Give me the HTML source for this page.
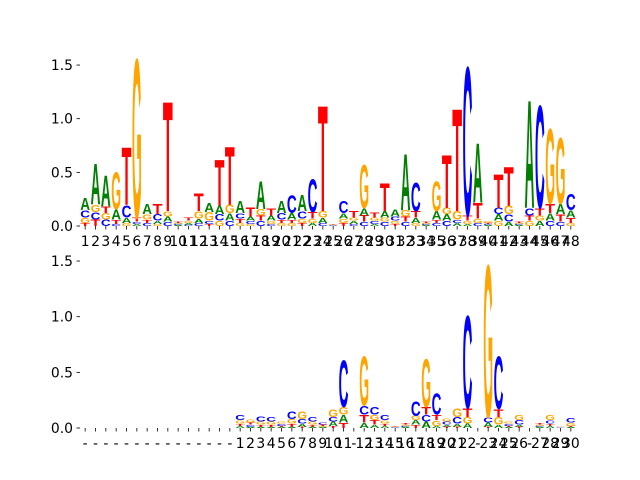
<!DOCTYPE html>
<html><head><meta charset="utf-8"><style>
html,body{margin:0;padding:0;background:#fff;}
svg{display:block;}
text{font-family:"DejaVu Sans","Liberation Sans",sans-serif;}
text.letter{font-family:"Liberation Sans","DejaVu Sans",sans-serif;}
</style></head>
<body>
<svg id="chart" width="640" height="480" viewBox="0 0 640 480" xmlns="http://www.w3.org/2000/svg">
<g id="top"></g>
<g id="bottom"></g>
</svg>
<script>
const topLabels = Array.from({length:48},(_, i)=>String(i+1));
const topA = [.12,.4,.3,.1,.05,.02,.1,.03,.05,.01,.02,.04,.09,.08,.07,.12,.04,.27,.05,.12,.06,.16,.03,.05,.005,.05,.03,.07,.02,.06,.07,.55,.05,.01,.08,.06,.03,.02,.58,.01,.06,.04,.01,1.05,.05,.07,.1,.07];
const topC = [.07,.07,.06,.02,.12,.02,.03,.06,.04,.01,.01,.03,.03,.06,.05,.05,.03,.05,.02,.06,.17,.07,.32,.03,.005,.12,.02,.04,.03,.04,.04,.04,.28,.01,.03,.05,.03,1.45,.03,.01,.06,.07,.01,.07,1.0,.05,.04,.16];
const topG = [.05,.07,.06,.36,.03,1.55,.05,.02,.05,.01,.02,.07,.08,.05,.08,.03,.02,.06,.03,.03,.03,.04,.04,.06,.005,.04,.03,.42,.03,.04,.03,.06,.03,.01,.29,.06,.08,.03,.04,.02,.05,.08,.01,.05,.05,.73,.64,.03];
const topT = [.03,.06,.06,.04,.56,.04,.03,.1,1.07,.01,.03,.17,.02,.45,.57,.04,.09,.05,.07,.03,.03,.03,.06,1.03,.005,.03,.06,.06,.05,.27,.02,.05,.06,.01,.03,.52,1.0,.05,.15,.01,.33,.38,.01,.05,.07,.09,.07,.05];

const botLabels = ['-','-','-','-','-','-','-','-','-','-','-','-','-','-','-',
 '1','2','3','4','5','6','7','8','9','10','11','-','12','13','14','15','16','17','18','19','20','21','22','-','23','24','25','26','-','27','28','29','30'];
const botA = [0,0,0,0,0,0,0,0,0,0,0,0,0,0,0,
 .02,.01,.01,.01,.01,.01,.03,.01,.01,.04,.07,0,.05,.03,.02,.005,.01,.04,.06,.02,.02,.03,.04,0,.04,.03,.01,.02,0,.01,.02,.002,.01];
const botC = [0,0,0,0,0,0,0,0,0,0,0,0,0,0,0,
 .05,.02,.05,.04,.02,.07,.04,.04,.02,.04,.44,0,.08,.07,.05,.005,.01,.14,.06,.2,.03,.06,.87,0,.05,.49,.02,.04,0,.01,.03,.003,.04];
const botG = [0,0,0,0,0,0,0,0,0,0,0,0,0,0,0,
 .03,.03,.03,.03,.02,.04,.07,.03,.01,.07,.07,0,.46,.05,.03,.005,.01,.04,.45,.05,.03,.08,.06,0,1.43,.07,.02,.05,0,.01,.05,.003,.03];
const botT = [0,0,0,0,0,0,0,0,0,0,0,0,0,0,0,
 .02,.02,.02,.02,.01,.03,.01,.02,.01,.02,.05,0,.07,.04,.02,.005,.01,.03,.07,.05,.01,.01,.08,0,.01,.07,.01,.01,0,.01,.02,.002,.01];

const yTicks = [0, 0.5, 1.0, 1.5];
const yTickLabels = ['0.0','0.5','1.0','1.5'];

const NS = 'http://www.w3.org/2000/svg';
const colors = {A:'#008000', C:'#0000ff', G:'#ffa500', T:'#ff0000'};
const adv = {A:72.2, C:72.2, G:77.8, T:61.1};

function drawPanel(g, name, labels, A, C, G, T, y0, unit) {
  const left = 80, right = 576, n = labels.length;
  const step = (right-left)/n;
  const xScale = i => left + (i+0.5)*step;
  const yScale = v => y0 - v*unit;
  yTicks.forEach((t, k) => {
    const ln = document.createElementNS(NS,'line');
    ln.setAttribute('x1',76.5); ln.setAttribute('x2',80);
    ln.setAttribute('y1',yScale(t)); ln.setAttribute('y2',yScale(t));
    ln.setAttribute('stroke','#000'); ln.setAttribute('stroke-width','0.8');
    
    
    g.appendChild(ln);
    const tx = document.createElementNS(NS,'text');
    tx.setAttribute('x',73); tx.setAttribute('y',yScale(t)+5);
    tx.setAttribute('text-anchor','end'); tx.setAttribute('font-size','13.9');
    tx.textContent = yTickLabels[k];
    
    
    g.appendChild(tx);
  });
  for (let i=0;i<n;i++) {
    const cx = xScale(i);
    const tk = document.createElementNS(NS,'line');
    tk.setAttribute('x1',cx); tk.setAttribute('x2',cx);
    tk.setAttribute('y1',y0); tk.setAttribute('y2',y0+3.5);
    tk.setAttribute('stroke','#000'); tk.setAttribute('stroke-width','0.8');
    
    
    g.appendChild(tk);
    const lb = document.createElementNS(NS,'text');
    lb.setAttribute('x',cx); lb.setAttribute('y',y0+20);
    lb.setAttribute('text-anchor','middle'); lb.setAttribute('font-size','13.9');
    lb.textContent = labels[i];
    
    
    g.appendChild(lb);
    const col = [['A',A[i]],['C',C[i]],['G',G[i]],['T',T[i]]].filter(d=>d[1]>0).sort((a,b)=>a[1]-b[1]);
    let base = 0;
    const w = step*0.95;
    col.forEach(([L,h]) => {
      const yb = yScale(base), hp = h*unit;
      const t = document.createElementNS(NS,'text');
      const sx = w/adv[L], sy = hp/72.9;
      t.setAttribute('class','letter');
      t.setAttribute('transform',`translate(${cx - w/2},${yb}) scale(${sx},${sy})`);
      t.setAttribute('font-size','100');
      t.setAttribute('font-weight','bold');
      t.setAttribute('fill',colors[L]);
      t.textContent = L;
      
      
      g.appendChild(t);
      base += h;
    });
  }
}
drawPanel(document.getElementById('top'), 'top', topLabels, topA, topC, topG, topT, 226, 107.3);
drawPanel(document.getElementById('bottom'), 'bottom', botLabels, botA, botC, botG, botT, 428, 111.3);
</script>
</body></html>
